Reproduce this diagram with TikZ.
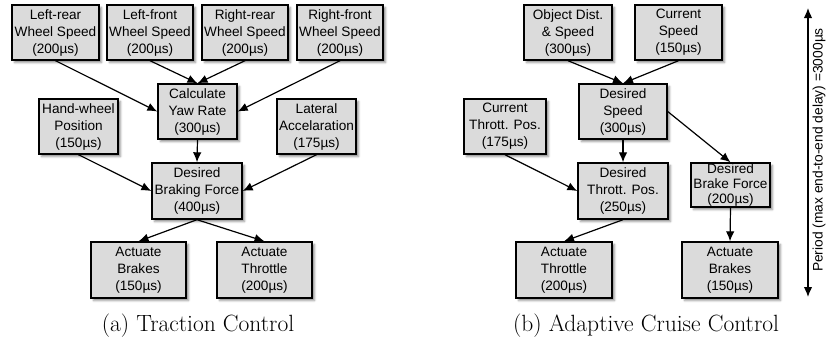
\documentclass[tikz,border=0pt]{standalone}
\usepackage{fontspec}
\setsansfont{Liberation Sans}
\usepackage{tikz}
\usetikzlibrary{arrows.meta}
\usetikzlibrary{shadows.blur}

\begin{document}
\begin{tikzpicture}[x=1pt,y=-1pt,
	task/.style={draw, line width=1.4pt, fill=black!14, align=center, inner sep=0pt,
		minimum height=55pt, font=\sffamily\fontsize{13.6}{17}\selectfont,
		blur shadow={shadow xshift=2.5pt, shadow yshift=-2.5pt, shadow blur radius=2pt, shadow opacity=45}},
	flow/.style={line width=1.2pt, -{Latex[length=10pt,width=8.5pt]}},
	subcap/.style={font=\rmfamily\fontsize{23.5}{28}\selectfont}]
		\useasboundingbox (0,0) rectangle (827,341);
		% (a) traction control
		\node [task, minimum width=87pt] (lr) at (55.5,32.5) {Left-rear\\Wheel Speed\\(200µs)};
		\node [task, minimum width=86pt] (lf) at (150,32.5) {Left-front\\Wheel Speed\\(200µs)};
		\node [task, minimum width=86pt] (rr) at (245,32.5) {Right-rear\\Wheel Speed\\(200µs)};
		\node [task, minimum width=86pt] (rf) at (340,32.5) {Right-front\\Wheel Speed\\(200µs)};
		\node [task, minimum width=79pt] (yaw) at (197.5,111.5) {Calculate\\Yaw Rate\\(300µs)};
		\node [task, minimum width=79pt] (hw) at (78.5,126.5) {Hand-wheel\\Position\\(150µs)};
		\node [task, minimum width=79pt] (lat) at (316.5,126.5) {Lateral\\Accelaration\\(175µs)};
		\node [task, minimum width=90pt, minimum height=56pt] (brk) at (197,191) {Desired\\Braking Force\\(400µs)};
		\node [task, minimum width=95pt, minimum height=56pt] (actb) at (138.5,270) {Actuate\\Brakes\\(150µs)};
		\node [task, minimum width=95pt, minimum height=56pt] (actt) at (264.5,270) {Actuate\\Throttle\\(200µs)};
		\draw [flow] (lr.south) -- (yaw.west);
		\draw [flow] (lf.south) -- (yaw.north);
		\draw [flow] (rr.south) -- (yaw.north);
		\draw [flow] (rf.south) -- (yaw.east);
		\draw [flow] (yaw.south) -- (brk.north);
		\draw [flow] (hw.south) -- (brk.west);
		\draw [flow] (lat.south) -- (brk.east);
		\draw [flow] (brk.south) -- (actb.north);
		\draw [flow] (brk.south) -- (actt.north);
		\node [subcap] (capa) at (198,326) {(a) Traction Control};
		% (b) adaptive cruise control
		\node [task, minimum width=88pt] (obj) at (568,32.5) {Object Dist.\\\& Speed\\(300µs)};
		\node [task, minimum width=87pt] (cur) at (678.5,32.5) {Current\\Speed\\(150µs)};
		\node [task, minimum width=88pt] (dsp) at (623,111.5) {Desired\\Speed\\(300µs)};
		\node [task, minimum width=82pt] (ctp) at (505,126.5) {Current\\Thrott. Pos.\\(175µs)};
		\node [task, minimum width=90pt, minimum height=56pt] (dtp) at (623,191) {Desired\\Thrott. Pos.\\(250µs)};
		\node [task, minimum width=79pt, minimum height=44pt, font=\sffamily\fontsize{13.6}{15}\selectfont] (dbf) at (730.5,185) {Desired\\Brake Force\\(200µs)};
		\node [task, minimum width=96pt, minimum height=56pt] (att) at (564,270) {Actuate\\Throttle\\(200µs)};
		\node [task, minimum width=96pt, minimum height=56pt] (atb) at (730,270) {Actuate\\Brakes\\(150µs)};
		\draw [flow] (obj.south) -- (dsp.north);
		\draw [flow] (cur.south) -- (dsp.north);
		\draw [flow] (dsp.south) -- (dtp.north);
		\draw [flow] (dsp.east) -- (dbf.north);
		\draw [flow] (ctp.south) -- (dtp.west);
		\draw [flow] (dtp.south) -- (att.north);
		\draw [flow] (dbf.south) -- (atb.north);
		\node [subcap] (capb) at (646,326) {(b) Adaptive Cruise Control};
		% period
		\coordinate (ptop) at (808,8);
		\coordinate (pbot) at (808,297);
		\draw [line width=1.2pt, {Latex[length=10pt,width=8.5pt]}-{Latex[length=10pt,width=8.5pt]}] (ptop) -- (pbot);
		\node [rotate=90, inner sep=1pt, font=\sffamily\fontsize{13.8}{17}\selectfont] (per) at (819,150) {Period (max end-to-end delay) =3000µs};
\end{tikzpicture}
\end{document}
